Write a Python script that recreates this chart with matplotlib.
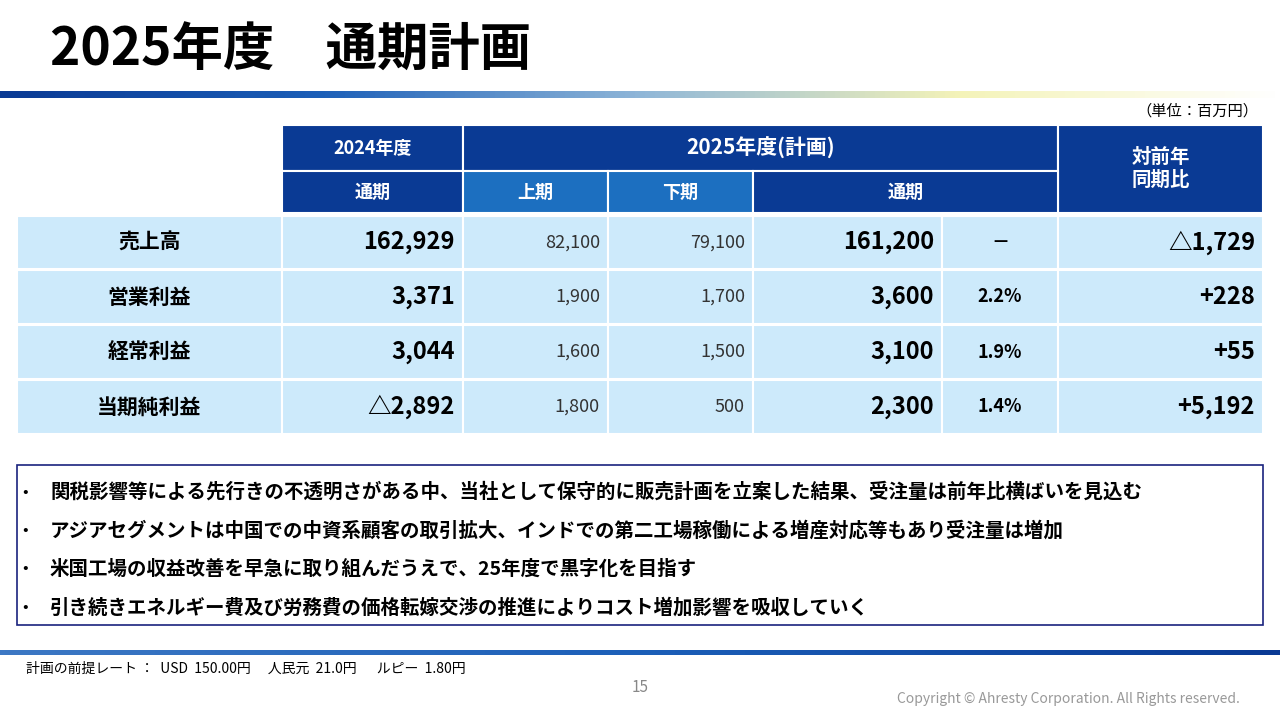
import numpy as np
import matplotlib.pyplot as plt
from matplotlib.patches import Rectangle
from matplotlib.colors import LinearSegmentedColormap

plt.rcParams['font.family'] = 'Noto Sans CJK JP'

# data
items = ['売上高', '営業利益', '経常利益', '当期純利益']
fy2024 = ['162,929', '3,371', '3,044', '△2,892']
h1_2025 = ['82,100', '1,900', '1,600', '1,800']
h2_2025 = ['79,100', '1,700', '1,500', '500']
fy2025 = ['161,200', '3,600', '3,100', '2,300']
margin = ['－', '2.2%', '1.9%', '1.4%']
yoy = ['△1,729', '+228', '+55', '+5,192']
bullets = [
    '関税影響等による先行きの不透明さがある中、当社として保守的に販売計画を立案した結果、受注量は前年比横ばいを見込む',
    'アジアセグメントは中国での中資系顧客の取引拡大、インドでの第二工場稼働による増産対応等もあり受注量は増加',
    '米国工場の収益改善を早急に取り組んだうえで、25年度で黒字化を目指す',
    '引き続きエネルギー費及び労務費の価格転嫁交渉の推進によりコスト増加影響を吸収していく',
]

DARK = '#0a3a94'
MID = '#1c6fc0'
LIGHT = '#cdeafb'

fig = plt.figure(figsize=(12.8, 7.2), dpi=100)
ax = fig.add_axes([0, 0, 1, 1])

ax.text(50, 50, '2025年度　通期計画', fontsize=37, fontweight='bold', va='center', ha='left')

# gradient bars
cmap = LinearSegmentedColormap.from_list('g', ['#0a3a94', '#1c5fb8', '#8fb6d8', '#f4f3b8', '#ffffff'])
grad = np.linspace(0, 1, 256).reshape(1, -1)
ax.imshow(grad, cmap=cmap, extent=[0, 1280, 98, 91], aspect='auto')
cmap2 = LinearSegmentedColormap.from_list('g2', ['#3d78c4', '#1c5fb8', '#0a3a94'])
ax.imshow(grad, cmap=cmap2, extent=[0, 1280, 655, 650], aspect='auto')
ax.set_xlim(0, 1280)
ax.set_ylim(720, 0)
ax.axis('off')

ax.text(1258, 111, '（単位：百万円）', fontsize=11, ha='right', va='center')

xs = [17, 282, 463, 608, 753, 942, 1058, 1263]

def cell(x0, x1, y0, y1, fc, txt='', tc='white', size=12, bold=True, ha='center', pad=8):
    ax.add_patch(Rectangle((x0, y0), x1 - x0, y1 - y0, fc=fc, ec='white', lw=1.5))
    if txt:
        tx = (x0 + x1) / 2 if ha == 'center' else x1 - pad
        ax.text(tx, (y0 + y1) / 2, txt, color=tc, fontsize=size,
                fontweight='bold' if bold else 'normal', ha=ha, va='center')

# header
cell(xs[1], xs[2], 125, 171, DARK, '2024年度', size=13)
cell(xs[2], xs[6], 125, 171, DARK, '2025年度(計画)', size=15)
cell(xs[6], xs[7], 125, 213, DARK, '対前年\n同期比', size=14)
cell(xs[1], xs[2], 171, 213, DARK, '通期', size=13)
cell(xs[2], xs[3], 171, 213, MID, '上期', size=13)
cell(xs[3], xs[4], 171, 213, MID, '下期', size=13)
cell(xs[4], xs[6], 171, 213, DARK, '通期', size=13)

rows = [(216, 269), (270, 324), (325, 379), (380, 434)]
for i, (y0, y1) in enumerate(rows):
    cell(xs[0], xs[1], y0, y1, LIGHT, items[i], tc='black', size=15)
    cell(xs[1], xs[2], y0, y1, LIGHT, fy2024[i], tc='black', size=17, ha='right')
    cell(xs[2], xs[3], y0, y1, LIGHT, h1_2025[i], tc='#333333', size=13, bold=False, ha='right')
    cell(xs[3], xs[4], y0, y1, LIGHT, h2_2025[i], tc='#333333', size=13, bold=False, ha='right')
    cell(xs[4], xs[5], y0, y1, LIGHT, fy2025[i], tc='black', size=17, ha='right')
    cell(xs[5], xs[6], y0, y1, LIGHT, margin[i], tc='black', size=13)
    cell(xs[6], xs[7], y0, y1, LIGHT, yoy[i], tc='black', size=17, ha='right')

# bullet box
ax.add_patch(Rectangle((17, 465), 1246, 160, fc='white', ec='#1a237e', lw=1.2))
for i, b in enumerate(bullets):
    y = 492 + i * 38.5
    ax.text(22, y, '•', fontsize=12, va='center')
    ax.text(50, y, b, fontsize=14, fontweight='bold', va='center')

ax.text(26, 669, '計画の前提レート ：  USD  150.00円　 人民元  21.0円　  ルピー  1.80円', fontsize=10, va='center')
ax.text(640, 687, '15', fontsize=11, color='#888888', ha='center', va='center')
ax.text(1240, 699, 'Copyright © Ahresty Corporation. All Rights reserved.', fontsize=10,
        color='#999999', ha='right', va='center')

fig.savefig('out.png', dpi=100)
